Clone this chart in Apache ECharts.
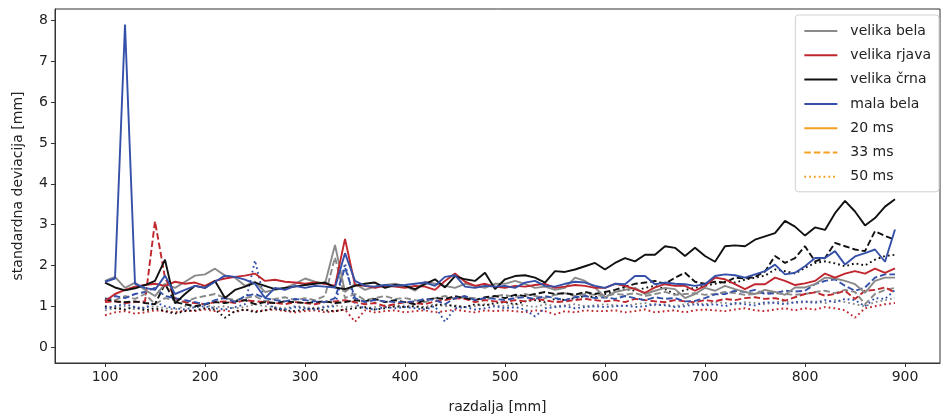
<!DOCTYPE html>
<html>
<head>
<meta charset="utf-8">
<script src="https://cdn.jsdelivr.net/npm/echarts@6/dist/echarts.min.js"></script>
<style>html,body{margin:0;padding:0;background:#fff}#c{width:945px;height:419px}</style>
</head>
<body>
<div id="c"></div>
<script>
// x positions (razdalja [mm])
const distances = [];
for (let d = 100; d <= 890; d += 10) distances.push(d);

const xTicks = [100, 200, 300, 400, 500, 600, 700, 800, 900];
const yTicks = [0, 1, 2, 3, 4, 5, 6, 7, 8];

const materials = ['velika bela', 'velika rjava', 'velika črna', 'mala bela'];
const durations = ['20 ms', '33 ms', '50 ms'];

// velika bela
const vb20 = [1.62,1.72,1.45,1.58,1.40,1.25,1.55,1.45,1.60,1.75,
  1.78,1.92,1.75,1.70,1.50,1.60,1.35,1.40,1.45,1.55,
  1.68,1.60,1.55,2.50,1.35,1.55,1.40,1.48,1.52,1.55,
  1.50,1.38,1.60,1.55,1.50,1.45,1.55,1.50,1.45,1.55,
  1.55,1.62,1.55,1.45,1.48,1.40,1.45,1.70,1.62,1.46,
  1.22,1.35,1.40,1.45,1.30,1.38,1.45,1.42,1.20,1.30,
  1.45,1.38,1.50,1.42,1.35,1.30,1.40,1.35,1.28,1.46,
  1.46,1.54,1.70,1.68,1.62,1.54,1.33,1.62,1.70,1.70];
const vb33 = [1.20,1.15,1.25,1.18,1.30,1.05,1.20,1.15,1.10,1.20,
  1.25,1.30,1.20,1.15,1.20,1.25,1.12,1.18,1.22,1.15,
  1.20,1.15,1.25,2.20,1.20,1.30,1.15,1.20,1.25,1.18,
  1.20,1.15,1.10,1.20,1.25,1.18,1.22,1.20,1.15,1.25,
  1.28,1.22,1.30,1.25,1.20,1.28,1.32,1.25,1.30,1.28,
  1.25,1.30,1.28,1.32,1.25,1.30,1.35,1.28,1.30,1.32,
  1.28,1.30,1.35,1.32,1.28,1.30,1.35,1.32,1.30,1.28,
  1.30,1.35,1.38,1.32,1.40,1.35,1.05,1.30,1.40,1.45];
const vb50 = [0.90,0.95,1.00,0.92,0.98,1.00,0.95,0.92,1.00,0.98,
  1.02,0.98,1.00,0.95,0.98,1.05,1.00,0.98,0.95,1.00,
  0.98,0.95,1.00,1.02,0.98,1.00,0.95,0.98,1.02,1.00,
  1.02,1.00,0.98,1.05,1.00,1.02,0.98,1.00,1.05,1.02,
  1.00,1.05,1.02,0.98,1.05,1.00,1.02,1.05,1.00,1.02,
  1.05,1.02,1.00,1.05,1.08,1.02,1.05,1.00,1.05,1.08,
  1.05,1.10,1.08,1.05,1.10,1.08,1.05,1.10,1.12,1.08,
  1.10,1.12,1.08,1.15,1.10,1.05,1.00,1.10,1.15,1.20];

// velika rjava
const rj20 = [1.12,1.30,1.40,1.48,1.52,1.55,1.50,1.60,1.55,1.58,
  1.50,1.62,1.68,1.72,1.75,1.80,1.62,1.65,1.60,1.58,
  1.55,1.58,1.55,1.50,2.65,1.52,1.50,1.45,1.50,1.48,
  1.45,1.50,1.48,1.40,1.62,1.80,1.60,1.50,1.55,1.48,
  1.45,1.50,1.48,1.52,1.55,1.45,1.48,1.52,1.50,1.45,
  1.45,1.55,1.50,1.42,1.33,1.46,1.54,1.50,1.50,1.38,
  1.50,1.70,1.66,1.54,1.42,1.54,1.54,1.70,1.62,1.52,
  1.56,1.62,1.80,1.70,1.80,1.86,1.80,1.92,1.82,1.93];
const rj33 = [1.10,1.12,1.08,1.10,1.12,3.08,1.70,1.20,1.10,1.08,
  1.05,1.10,1.12,1.08,1.15,1.12,1.10,1.08,1.05,1.10,
  1.08,1.05,1.10,1.12,1.15,1.10,1.05,1.08,1.00,1.05,
  1.10,1.08,1.05,1.12,1.15,1.20,1.18,1.10,1.15,1.12,
  1.10,1.15,1.12,1.18,1.15,1.10,1.12,1.15,1.18,1.15,
  1.12,1.15,1.10,1.18,1.15,1.12,1.10,1.15,1.12,1.10,
  1.15,1.12,1.18,1.15,1.20,1.22,1.18,1.20,1.14,1.22,
  1.30,1.34,1.26,1.30,1.38,1.18,1.38,1.40,1.46,1.34];
const rj50 = [0.78,0.85,0.88,0.82,0.85,0.90,0.88,0.85,0.90,0.88,
  0.92,0.88,0.90,0.85,0.92,0.88,0.90,0.92,0.88,0.85,
  0.88,0.90,0.85,0.88,0.92,0.62,0.90,0.85,0.88,0.90,
  0.85,0.88,0.90,0.85,0.88,0.92,0.88,0.85,0.90,0.88,
  0.90,0.88,0.85,0.90,0.88,0.80,0.88,0.85,0.90,0.88,
  0.88,0.90,0.85,0.88,0.92,0.85,0.88,0.90,0.85,0.90,
  0.92,0.90,0.88,0.92,0.95,0.90,0.88,0.92,0.95,0.90,
  0.95,0.92,0.98,0.95,0.90,0.72,0.95,1.00,1.05,1.08];

// velika črna
const cr20 = [1.58,1.46,1.39,1.44,1.52,1.62,2.14,1.07,1.30,1.50,
  1.45,1.62,1.20,1.40,1.48,1.58,1.50,1.42,1.45,1.48,
  1.52,1.55,1.58,1.46,1.42,1.50,1.55,1.58,1.45,1.52,
  1.50,1.42,1.54,1.66,1.46,1.74,1.66,1.62,1.82,1.42,
  1.66,1.74,1.76,1.70,1.58,1.86,1.84,1.90,1.98,2.06,
  1.90,2.06,2.18,2.10,2.26,2.26,2.47,2.43,2.23,2.43,
  2.23,2.09,2.47,2.49,2.47,2.63,2.71,2.79,3.09,2.95,
  2.73,2.93,2.87,3.28,3.58,3.32,2.98,3.16,3.44,3.62];
const cr33 = [1.17,1.12,1.10,1.12,1.08,1.05,1.55,1.10,1.05,1.00,
  1.05,1.10,1.08,1.12,1.15,1.05,1.10,1.08,1.12,1.10,
  1.08,1.10,1.12,1.08,1.10,1.15,1.12,1.18,1.10,1.15,
  1.10,1.05,1.15,1.20,1.18,1.25,1.20,1.15,1.22,1.25,
  1.20,1.28,1.25,1.30,1.35,1.30,1.32,1.28,1.35,1.30,
  1.35,1.40,1.48,1.55,1.58,1.62,1.55,1.70,1.82,1.60,
  1.55,1.60,1.58,1.70,1.68,1.72,1.85,2.23,2.06,2.18,
  2.47,2.10,2.18,2.55,2.47,2.39,2.35,2.84,2.72,2.63];
const cr50 = [1.00,0.95,0.92,0.98,0.90,0.95,0.88,0.82,0.88,0.90,
  0.95,0.92,0.72,0.88,0.92,0.85,0.90,0.95,0.90,0.88,
  0.92,0.95,0.90,0.88,0.92,0.95,0.98,0.92,0.95,1.00,
  0.98,1.00,0.95,1.02,1.05,1.00,0.98,1.05,1.02,1.08,
  1.10,1.05,1.12,1.15,1.10,1.18,1.15,1.20,1.25,1.22,
  1.30,1.35,1.42,1.38,1.45,1.50,1.42,1.29,1.40,1.45,
  1.50,1.55,1.60,1.58,1.65,1.70,1.75,1.90,1.86,1.80,
  1.94,2.06,2.10,2.05,1.98,2.05,2.00,2.14,2.23,2.26];

// mala bela
const mb20 = [1.60,1.68,7.90,1.55,1.45,1.40,1.75,1.30,1.40,1.50,
  1.45,1.60,1.75,1.72,1.65,1.55,1.20,1.45,1.40,1.50,
  1.45,1.50,1.48,1.46,2.30,1.62,1.50,1.48,1.52,1.50,
  1.52,1.55,1.58,1.50,1.72,1.76,1.48,1.45,1.50,1.48,
  1.50,1.45,1.58,1.62,1.50,1.48,1.55,1.60,1.58,1.50,
  1.45,1.55,1.54,1.74,1.74,1.54,1.58,1.55,1.54,1.50,
  1.54,1.74,1.78,1.76,1.70,1.78,1.86,2.02,1.78,1.82,
  1.98,2.18,2.18,2.35,2.02,2.22,2.30,2.39,2.09,2.88];
const mb33 = [1.15,1.25,1.20,1.30,1.35,1.45,1.25,1.20,1.15,1.10,
  1.05,1.15,1.20,1.10,1.25,1.30,1.20,1.15,1.12,1.18,
  1.15,1.12,1.10,1.20,1.95,1.20,1.10,1.15,1.12,1.10,
  1.10,1.12,1.18,1.15,1.05,1.20,1.25,1.15,1.20,1.18,
  1.15,1.20,1.22,1.18,1.25,1.20,1.15,1.22,1.25,1.20,
  1.22,1.18,1.25,1.20,1.15,1.22,1.18,1.20,1.12,1.13,
  1.20,1.29,1.30,1.38,1.35,1.40,1.30,1.32,1.38,1.36,
  1.38,1.54,1.62,1.66,1.50,1.38,1.46,1.70,1.78,1.78];
const mb50 = [0.95,1.00,1.05,0.98,0.95,1.10,1.00,0.95,0.92,0.98,
  1.00,0.95,0.92,0.98,1.05,2.12,1.10,0.95,0.92,0.98,
  0.95,0.92,0.98,1.00,2.05,1.05,0.95,0.92,0.98,0.95,
  0.98,0.95,0.92,1.00,0.62,0.95,0.98,0.92,0.95,1.00,
  0.95,0.98,0.92,0.75,0.95,0.98,1.00,0.95,0.98,1.00,
  0.98,1.00,1.02,0.98,1.00,1.05,1.02,0.98,1.00,1.05,
  1.02,1.05,1.00,1.08,1.05,1.02,1.10,1.08,1.05,1.10,
  1.12,1.08,1.15,1.10,1.18,1.15,1.00,1.20,1.18,1.40];

const colors = {'velika bela':'#8a8a8a','velika rjava':'#c0262d','velika črna':'#111111','mala bela':'#3550a8'};
const legendOrange = '#f5a020';
const dashStyles = {'20 ms':'solid','33 ms':[6.5,3],'50 ms':[1.8,3]};

const table = {
  'velika bela': {'20 ms': vb20, '33 ms': vb33, '50 ms': vb50},
  'velika rjava': {'20 ms': rj20, '33 ms': rj33, '50 ms': rj50},
  'velika črna': {'20 ms': cr20, '33 ms': cr33, '50 ms': cr50},
  'mala bela': {'20 ms': mb20, '33 ms': mb33, '50 ms': mb50}
};

const series = [];
['50 ms','33 ms','20 ms'].forEach(dur => {
  materials.forEach(m => {
    series.push({
      name: m + ' ' + dur,
      type: 'line',
      showSymbol: false,
      symbol: 'none',
      silent: true,
      data: distances.map((d, i) => [d, table[m][dur][i]]),
      lineStyle: {color: colors[m], width: 1.9, type: dashStyles[dur]},
      itemStyle: {color: colors[m]}
    });
  });
});
// legend-only series
materials.forEach(m => {
  series.push({name: m, type: 'line', symbol: 'none', showSymbol: false, data: [],
    lineStyle: {color: colors[m], width: 2, type: 'solid'}, itemStyle: {color: 'rgba(0,0,0,0)', opacity: 0}});
});
durations.forEach(dur => {
  series.push({name: dur, type: 'line', symbol: 'none', showSymbol: false, data: [],
    lineStyle: {color: legendOrange, width: 2, type: dashStyles[dur]}, itemStyle: {color: 'rgba(0,0,0,0)', opacity: 0}});
});

const font = 'DejaVu Sans';
const chart = echarts.init(document.getElementById('c'), null, {renderer: 'canvas'});
chart.setOption({
  animation: false,
  backgroundColor: '#fff',
  grid: {left: 55, right: 5, top: 9, bottom: 53, show: true, borderColor: '#333', borderWidth: 1, backgroundColor: 'transparent'},
  legend: {
    data: materials.concat(durations),
    orient: 'vertical',
    right: 6, top: 15,
    itemWidth: 33, itemHeight: 14, itemGap: 10.3,
    padding: [9, 8, 8, 8],
    borderColor: '#d0d0d0', borderWidth: 1, borderRadius: 3,
    backgroundColor: 'rgba(255,255,255,0.85)',
    itemStyle: {opacity: 0, borderWidth: 0},
    textStyle: {fontFamily: font, fontSize: 14, color: '#222', padding: [0, 0, 0, 8]},
    selectedMode: false
  },
  xAxis: {
    type: 'value', min: 50, max: 935,
    name: 'razdalja [mm]', nameLocation: 'middle', nameGap: 37,
    nameTextStyle: {fontFamily: font, fontSize: 14, color: '#222'},
    axisLine: {show: true, onZero: false, lineStyle: {color: '#333'}},
    axisTick: {show: true, length: 4, lineStyle: {color: '#333'}, customValues: xTicks},
    axisLabel: {fontFamily: font, fontSize: 14, color: '#222', margin: 7, customValues: xTicks},
    splitLine: {show: false}
  },
  yAxis: {
    type: 'value', min: -0.39, max: 8.28,
    name: 'standardna deviacija [mm]', nameLocation: 'middle', nameGap: 30, nameRotate: 90,
    nameTextStyle: {fontFamily: font, fontSize: 14, color: '#222'},
    axisLine: {show: true, onZero: false, lineStyle: {color: '#333'}},
    axisTick: {show: true, length: 4, lineStyle: {color: '#333'}, customValues: yTicks},
    axisLabel: {fontFamily: font, fontSize: 14, color: '#222', margin: 7, customValues: yTicks},
    splitLine: {show: false}
  },
  series: series
});
</script>
</body>
</html>
